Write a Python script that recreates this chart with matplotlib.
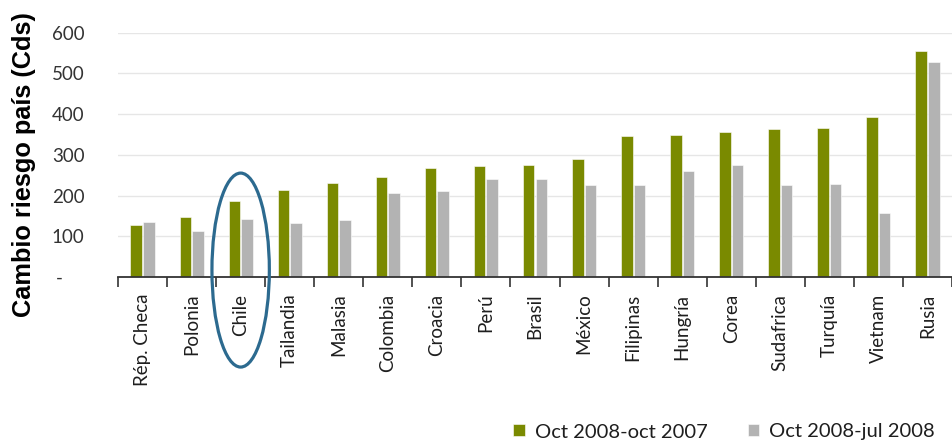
import matplotlib
matplotlib.use("Agg")
import matplotlib.pyplot as plt
from matplotlib.patches import Ellipse
from matplotlib.transforms import ScaledTranslation
import numpy as np

paises = ["Rép. Checa", "Polonia", "Chile", "Tailandia", "Malasia", "Colombia",
          "Croacia", "Perú", "Brasil", "México", "Filipinas", "Hungría", "Corea",
          "Sudafrica", "Turquía", "Vietnam", "Rusia"]
oct08_oct07 = [127, 147, 186, 214, 231, 246, 267, 272, 276, 290, 346, 348, 357,
               362, 366, 392, 555]
oct08_jul08 = [136, 113, 142, 133, 139, 205, 211, 240, 240, 226, 226, 260, 276,
               226, 229, 156, 527]
serie_labels = ["Oct 2008-oct 2007", "Oct 2008-jul 2008"]
yticks = [0, 100, 200, 300, 400, 500, 600]
ytick_labels = ["-", "100", "200", "300", "400", "500", "600"]

VERDE = "#7a8a00"
GRIS = "#b3b3b3"
TXT = "#1e1e1e"
FONT = "Lato"

W, H = 952, 445
fig = plt.figure(figsize=(W / 100, H / 100), dpi=100)
ax = fig.add_axes([118 / W, 1 - 277 / H, 1 - 118 / W, (277 - 32.5) / H])

x = np.arange(len(paises))
bw = 0.235
ax.bar(x - 0.128, oct08_oct07, bw, color=VERDE, edgecolor="white", linewidth=0.4,
       label=serie_labels[0], zorder=3)
ax.bar(x + 0.128, oct08_jul08, bw, color=GRIS, edgecolor="white", linewidth=0.4,
       label=serie_labels[1], zorder=3)

ax.set_xlim(-0.5, 16.3)
ax.set_ylim(0, 600)

for s in ["top", "right", "left"]:
    ax.spines[s].set_visible(False)
ax.spines["bottom"].set_color("#333333")
ax.spines["bottom"].set_linewidth(1.3)
ax.spines["bottom"].set_zorder(4)

ax.set_yticks(yticks)
ax.set_yticklabels(ytick_labels, fontfamily=FONT, fontsize=13.5, color="#333333")
ax.tick_params(axis="y", length=0, pad=24)
ax.yaxis.grid(True, color="#e6e6e6", linewidth=1.0, zorder=0)
zero_lbl = ax.get_yticklabels()[0]
zero_lbl.set_transform(zero_lbl.get_transform() + ScaledTranslation(-0.22, 0, fig.dpi_scale_trans))

ax.set_xticks(x)
ax.set_xticklabels(paises, rotation=90, fontfamily=FONT, fontsize=13.5, color=TXT,
                   va="top", ha="center")
ax.tick_params(axis="x", which="major", length=0, pad=12)
ax.set_xticks(np.arange(-0.5, len(paises), 1.0), minor=True)
ax.tick_params(axis="x", which="minor", length=7, width=1.2, color="#333333",
               direction="out")

fig.text(24 / W, 1 - 165 / H, "Cambio riesgo país (Cds)", rotation=90,
         ha="center", va="center", fontsize=18.3, fontweight="bold",
         fontfamily="Liberation Sans", color="black")

# circle around Chile
ell = Ellipse((2, 17), width=1.17, height=476, fill=False, edgecolor="#2c6a8f",
              linewidth=2.3, clip_on=False, zorder=6)
ax.add_patch(ell)

leg = fig.legend(loc="center", bbox_to_anchor=(724 / W, 1 - 432 / H), ncol=2,
                 frameon=False, handlelength=0.55, handleheight=0.55,
                 handletextpad=0.5, columnspacing=2.0,
                 prop={"family": FONT, "size": 14.5})
for t in leg.get_texts():
    t.set_color(TXT)

fig.savefig("out.png", dpi=100)
